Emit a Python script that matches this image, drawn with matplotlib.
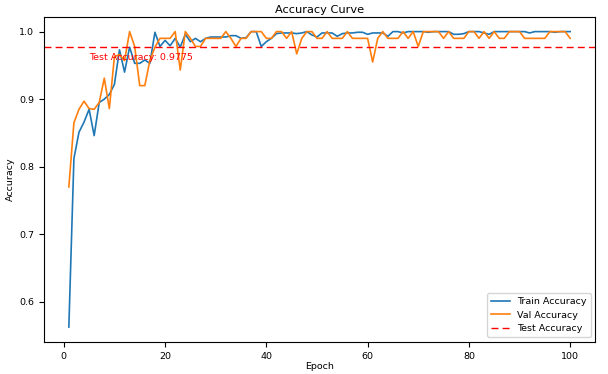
import matplotlib
matplotlib.use('Agg')
import matplotlib.pyplot as plt

epochs = list(range(1, 101))

train_acc = [
    0.5625, 0.812, 0.851, 0.866, 0.885, 0.846, 0.895, 0.900, 0.907, 0.922,
    0.973, 0.940, 0.977, 0.953, 0.953, 0.958, 0.953, 0.999, 0.978, 0.987,
    0.979, 0.990, 0.977, 0.996, 0.985, 0.990, 0.985, 0.990, 0.992, 0.992,
    0.992, 0.992, 0.994, 0.994, 0.990, 0.991, 1.000, 1.000, 0.978, 0.985,
    0.990, 0.997, 0.998, 0.998, 0.998, 0.997, 0.998, 1.000, 0.995, 0.992,
    0.998, 0.998, 0.998, 0.993, 0.997, 0.998, 0.998, 0.999, 0.999, 0.996,
    0.998, 0.998, 0.998, 0.993, 1.000, 1.000, 0.998, 1.000, 1.000, 1.000,
    1.000, 0.999, 1.000, 1.000, 1.000, 1.000, 0.996, 0.996, 0.997, 1.000,
    1.000, 1.000, 0.998, 0.996, 1.000, 1.000, 1.000, 1.000, 1.000, 1.000,
    1.000, 0.998, 1.000, 1.000, 1.000, 1.000, 0.999, 1.000, 1.000, 1.000,
]

val_acc = [
    0.770, 0.865, 0.885, 0.897, 0.886, 0.885, 0.895, 0.931, 0.886, 0.963,
    0.966, 0.957, 1.000, 0.978, 0.920, 0.920, 0.957, 0.977, 0.990, 0.990,
    0.990, 1.000, 0.943, 1.000, 0.990, 0.978, 0.978, 0.990, 0.990, 0.990,
    0.990, 1.000, 0.990, 0.978, 0.990, 0.990, 1.000, 1.000, 1.000, 0.990,
    0.990, 1.000, 1.000, 0.990, 1.000, 0.967, 0.990, 1.000, 1.000, 0.990,
    0.990, 1.000, 0.990, 0.990, 0.990, 1.000, 0.990, 0.990, 0.990, 0.990,
    0.955, 0.990, 1.000, 0.990, 0.990, 0.990, 1.000, 0.990, 1.000, 0.978,
    1.000, 1.000, 1.000, 1.000, 0.990, 1.000, 0.990, 0.990, 0.990, 1.000,
    1.000, 0.990, 1.000, 0.990, 1.000, 0.990, 0.990, 1.000, 1.000, 1.000,
    0.990, 0.990, 0.990, 0.990, 0.990, 1.000, 1.000, 1.000, 1.000, 0.990,
]

test_acc = 0.9775

plt.rcParams['font.size'] = 6.8

fig = plt.figure(figsize=(6.08, 3.74), dpi=100)
ax = fig.add_axes([0.072, 0.086, 0.907, 0.869])

ax.plot(epochs, train_acc, color='tab:blue', lw=1.2, label='Train Accuracy')
ax.plot(epochs, val_acc, color='tab:orange', lw=1.2, label='Val Accuracy')
ax.axhline(test_acc, color='r', linestyle='--', lw=1.0, dashes=(5, 3),
           label='Test Accuracy')
ax.text(5, test_acc - 0.02, 'Test Accuracy: ' + str(test_acc), color='r')

ax.set_title('Accuracy Curve', fontsize=8.2, pad=3)
ax.set_xlabel('Epoch', labelpad=1)
ax.set_ylabel('Accuracy', labelpad=3)
ax.legend(loc='lower right')

fig.savefig('out.png', dpi=100)
